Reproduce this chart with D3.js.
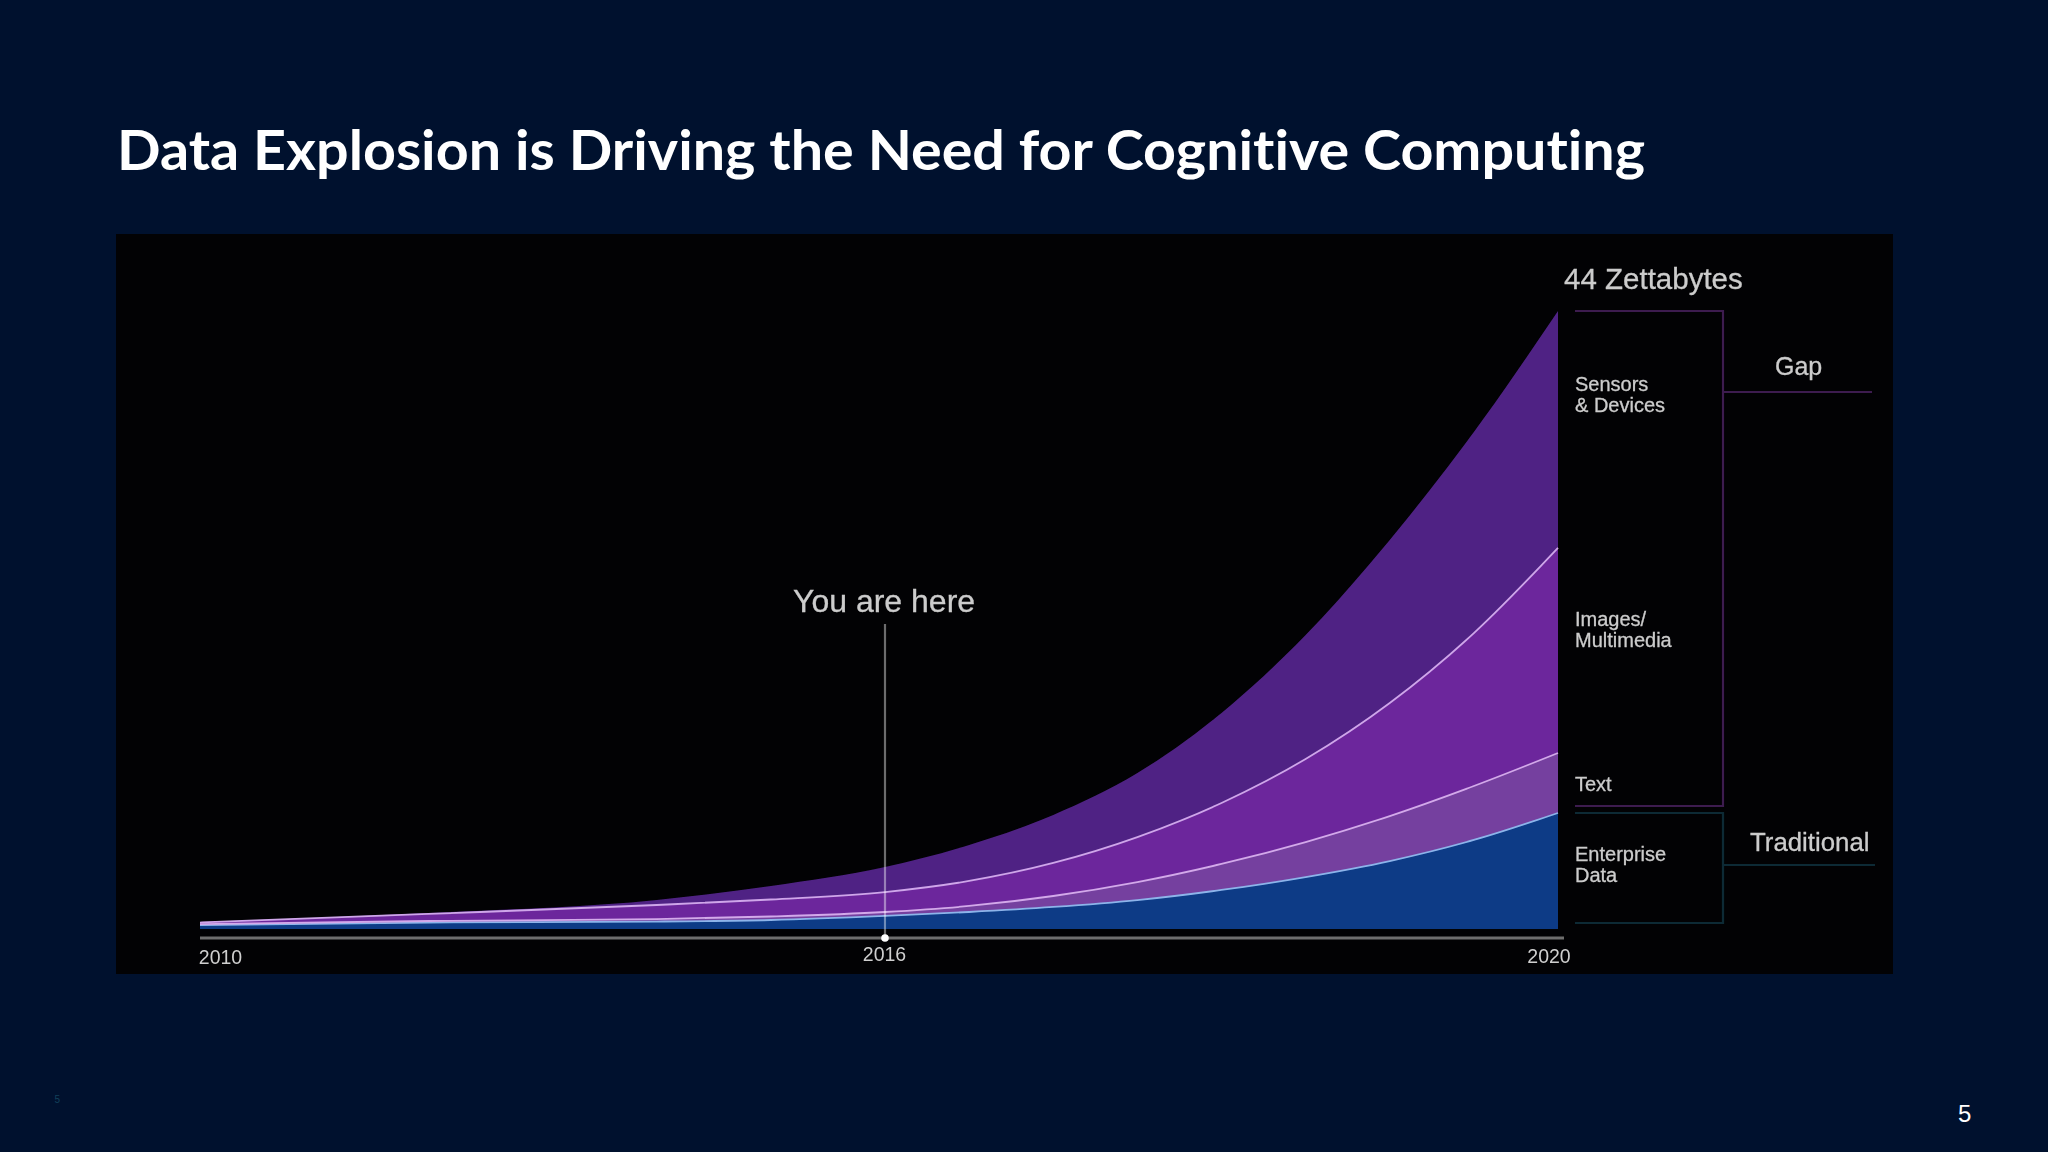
<!DOCTYPE html>
<html>
<head>
<meta charset="utf-8">
<script src="https://d3js.org/d3.v7.min.js"></script>
<style>
html,body{margin:0;padding:0;background:#00112e;}
svg{display:block;}
</style>
</head>
<body>
<svg id="c" width="2048" height="1152"></svg>
<script>
// Data (zettabytes, per layer)
const years      = [2010,2012,2014,2015,2016,2016.5,2017,2017.5,2018,2018.5,2019,2019.5,2020];
const enterprise = [0.28,0.46,0.53,0.64,0.93,1.21,1.57,2.06,2.78,3.70,4.84,6.34,8.26];
const textData   = [0.07,0.11,0.18,0.25,0.28,0.43,0.78,1.28,1.85,2.49,3.20,3.84,4.27];
const images     = [0.11,0.50,1.00,1.21,1.42,1.78,2.35,3.20,4.34,5.91,8.05,10.89,14.60];
const sensors    = [0.04,0.07,0.36,0.96,1.78,2.56,3.42,4.56,6.41,8.83,11.61,14.31,16.87];
const layerNames = ["enterprise","text","images","sensors"];
const layerFill  = ["#083a86","#74409f","#6c289c","#4f2384"];
const edgeStroke = ["#8db4ea","#d3a9ea","#cfa6ea",null];
const tickYears  = [2010,2016,2020];
const axisAnchors= [2010,2016,2020];

const svg = d3.select("#c");
const defs = svg.append("defs");
defs.append("filter").attr("id","soft").attr("x","-5%").attr("y","-5%").attr("width","110%").attr("height","110%")
  .append("feGaussianBlur").attr("stdDeviation",0.7);
defs.append("filter").attr("id","softText").attr("x","-10%").attr("y","-20%").attr("width","120%").attr("height","140%")
  .append("feGaussianBlur").attr("stdDeviation",0.7);

svg.append("rect").attr("width",2048).attr("height",1152).attr("fill","#00112e");

// Title
svg.append("text").text("Data Explosion is Driving the Need for Cognitive Computing")
  .attr("x",117).attr("y",170)
  .attr("font-family","Lato, 'Open Sans', sans-serif").attr("font-weight",700)
  .attr("font-size",55).attr("fill","#ffffff")
  .style("font-variant-ligatures","none")
  .attr("textLength",1528).attr("lengthAdjust","spacingAndGlyphs");

// Panel
svg.append("rect").attr("x",116).attr("y",234).attr("width",1777).attr("height",740).attr("fill","#020204");

// Scales
const x = d3.scaleLinear().domain(axisAnchors).range([200,885,1558]);
const y = d3.scaleLinear().domain([0,44]).range([929,311]);

const rows = years.map((yr,i)=>({year:yr,enterprise:enterprise[i],text:textData[i],images:images[i],sensors:sensors[i]}));
const stacked = d3.stack().keys(layerNames)(rows);

const area = d3.area().x(d=>x(d.data.year)).y0(d=>y(d[0])).y1(d=>y(d[1])).curve(d3.curveMonotoneX);
const line = d3.line().x(d=>x(d.data.year)).y(d=>y(d[1])).curve(d3.curveMonotoneX);

const plot = svg.append("g").attr("filter","url(#soft)");
plot.selectAll("path.layer").data(stacked).join("path").attr("class","layer")
  .attr("d",area).attr("fill",(d,i)=>layerFill[i]);
plot.selectAll("path.edge").data(stacked.filter((d,i)=>edgeStroke[i])).join("path").attr("class","edge")
  .attr("d",line).attr("fill","none").attr("stroke",(d,i)=>edgeStroke[i]).attr("stroke-width",1.8);

// "You are here" marker
plot.append("line").attr("x1",x(2016)).attr("x2",x(2016)).attr("y1",624).attr("y2",938)
  .attr("stroke","#ffffff").attr("stroke-opacity",0.42).attr("stroke-width",2.2);

// Axis
const axis = d3.axisBottom(x).tickValues(tickYears).tickFormat(d3.format("d")).tickSize(0).tickPadding(0);
const gx = plot.append("g").attr("transform","translate(0,938)").call(axis);
gx.select(".domain").attr("stroke","#6e6e6e").attr("stroke-width",3).attr("d","M200,0H1564");
const tickLabelX = {2010:220.5,2016:884.5,2020:1549};
const tickLabelY = {2010:26,2016:23,2020:25};
gx.selectAll(".tick").attr("transform","translate(0,0)");
gx.selectAll(".tick text")
  .attr("x",d=>tickLabelX[d]).attr("y",d=>tickLabelY[d]).attr("dy",0)
  .attr("text-anchor","middle")
  .attr("font-family","'Liberation Sans', sans-serif").attr("font-size",19.5)
  .attr("fill","#cfcfcf");
plot.append("circle").attr("cx",x(2016)).attr("cy",938).attr("r",3.8).attr("fill","#ffffff");

// Brackets
const gapStroke = "#3d1a50", tradStroke = "#0c2a36";
const br = svg.append("g").attr("fill","none").attr("stroke-width",2.2).attr("filter","url(#soft)");
br.append("path").attr("d","M1575,311H1723V806H1575M1723,392H1872").attr("stroke",gapStroke);
br.append("path").attr("d","M1575,813H1723V923H1575M1723,865H1875").attr("stroke",tradStroke);

// Labels
const labels = [
  {t:"44 Zettabytes",x:1564,y:289,s:29.5},
  {t:"Gap",x:1775,y:375,s:25},
  {t:"Sensors",x:1575,y:391,s:20},
  {t:"& Devices",x:1575,y:412,s:20},
  {t:"Images/",x:1575,y:626,s:20},
  {t:"Multimedia",x:1575,y:647,s:20},
  {t:"Text",x:1575,y:791,s:20},
  {t:"Enterprise",x:1575,y:861,s:20},
  {t:"Data",x:1575,y:882,s:20},
  {t:"Traditional",x:1750,y:851,s:25.8},
  {t:"You are here",x:793,y:612,s:32}
];
svg.append("g").attr("filter","url(#softText)")
  .selectAll("text").data(labels).join("text")
  .text(d=>d.t).attr("x",d=>d.x).attr("y",d=>d.y).attr("font-size",d=>d.s)
  .attr("font-family","'Liberation Sans', sans-serif").attr("fill","#cccccc")
  .attr("stroke","#cccccc").attr("stroke-width",0.3);

// Page numbers
svg.append("text").text("5").attr("x",1958).attr("y",1122).attr("font-size",24)
  .attr("font-family","'Liberation Sans', sans-serif").attr("fill","#ffffff");
svg.append("text").text("5").attr("x",54.5).attr("y",1103).attr("font-size",10)
  .attr("font-family","'Liberation Sans', sans-serif").attr("fill","#12405a");
</script>
</body>
</html>
